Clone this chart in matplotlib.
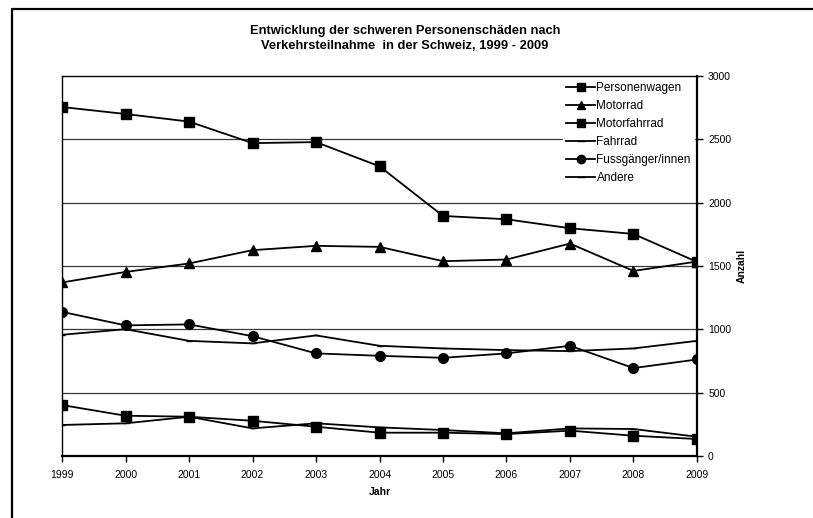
import matplotlib
matplotlib.use('Agg')
import matplotlib.pyplot as plt
from matplotlib.lines import Line2D

plt.rcParams['font.family'] = ['Liberation Sans', 'DejaVu Sans']

years = [1999, 2000, 2001, 2002, 2003, 2004, 2005, 2006, 2007, 2008, 2009]

personenwagen = [2755, 2700, 2640, 2470, 2478, 2287, 1895, 1869, 1798, 1753, 1532]
motorrad = [1370, 1453, 1520, 1625, 1659, 1651, 1538, 1551, 1677, 1461, 1535]
motorfahrrad = [402, 318, 310, 278, 231, 184, 184, 173, 200, 160, 134]
fahrrad = [957, 1001, 909, 889, 952, 870, 849, 836, 828, 849, 909]
fussgaenger = [1138, 1031, 1039, 946, 810, 791, 775, 810, 870, 694, 762]
andere = [245, 258, 310, 218, 258, 226, 205, 179, 218, 213, 152]

labels = ['Personenwagen', 'Motorrad', 'Motorfahrrad', 'Fahrrad',
          'Fussgänger/innen', 'Andere']
y_ticks = [0, 500, 1000, 1500, 2000, 2500, 3000]

fig = plt.figure(figsize=(8.13, 5.18), dpi=100)
ax = fig.add_axes([0.0763, 0.1197, 0.7810, 0.7336])

lw = 1.3
ax.plot(years, personenwagen, color='black', lw=lw, marker='s', ms=7, label=labels[0])
ax.plot(years, motorrad, color='black', lw=lw, marker='^', ms=7, label=labels[1])
ax.plot(years, motorfahrrad, color='black', lw=lw, marker='s', ms=7, label=labels[2])
ax.plot(years, fahrrad, color='black', lw=lw, marker='_', ms=5, label=labels[3])
ax.plot(years, fussgaenger, color='black', lw=lw, marker='o', ms=7, label=labels[4])
ax.plot(years, andere, color='black', lw=lw, marker='_', ms=5, label=labels[5])

ax.set_xlim(1999, 2009)
ax.set_ylim(0, 3000)
ax.set_xticks(years)
ax.set_yticks(y_ticks)
ax.yaxis.tick_right()
ax.yaxis.set_label_position('right')
ax.tick_params(axis='both', labelsize=7.5, length=4, width=1, direction='out')
ax.tick_params(axis='x', pad=6)
ax.tick_params(axis='y', pad=4)
for g in y_ticks[1:-1]:
    ax.axhline(g, color='#3a3a3a', lw=0.9, zorder=0)
for s in ax.spines.values():
    s.set_color('black')
    s.set_linewidth(1.0)
    s.set_zorder(6)
ax.spines['right'].set_linewidth(1.6)
ax.spines['bottom'].set_linewidth(1.6)

ax.set_xlabel('Jahr', fontsize=7.5, fontweight='bold', labelpad=5)
ax.set_ylabel('Anzahl', fontsize=7.5, fontweight='bold', labelpad=4)

leg = ax.legend(loc='upper right', bbox_to_anchor=(0.995, 0.991), fontsize=8.5,
                frameon=True, fancybox=False,
                edgecolor='white', facecolor='white', framealpha=1,
                borderaxespad=0, handlelength=2.5, handletextpad=0.1,
                labelspacing=0.5, borderpad=0.25)
leg.set_zorder(5)
for h in leg.legend_handles:
    h.set_markersize(6)

fig.text(0.498, 0.925, 'Entwicklung der schweren Personenschäden nach\n'
         'Verkehrsteilnahme  in der Schweiz, 1999 - 2009',
         ha='center', va='center', fontsize=9.3, fontweight='bold', linespacing=1.3)

# outer frame (left and top edge only visible)
fig.add_artist(Line2D([12 / 813, 12 / 813, 1.0], [0.0, 1 - 9 / 518, 1 - 9 / 518],
                      transform=fig.transFigure, color='black', lw=1.6))

fig.savefig('out.png', dpi=100)
